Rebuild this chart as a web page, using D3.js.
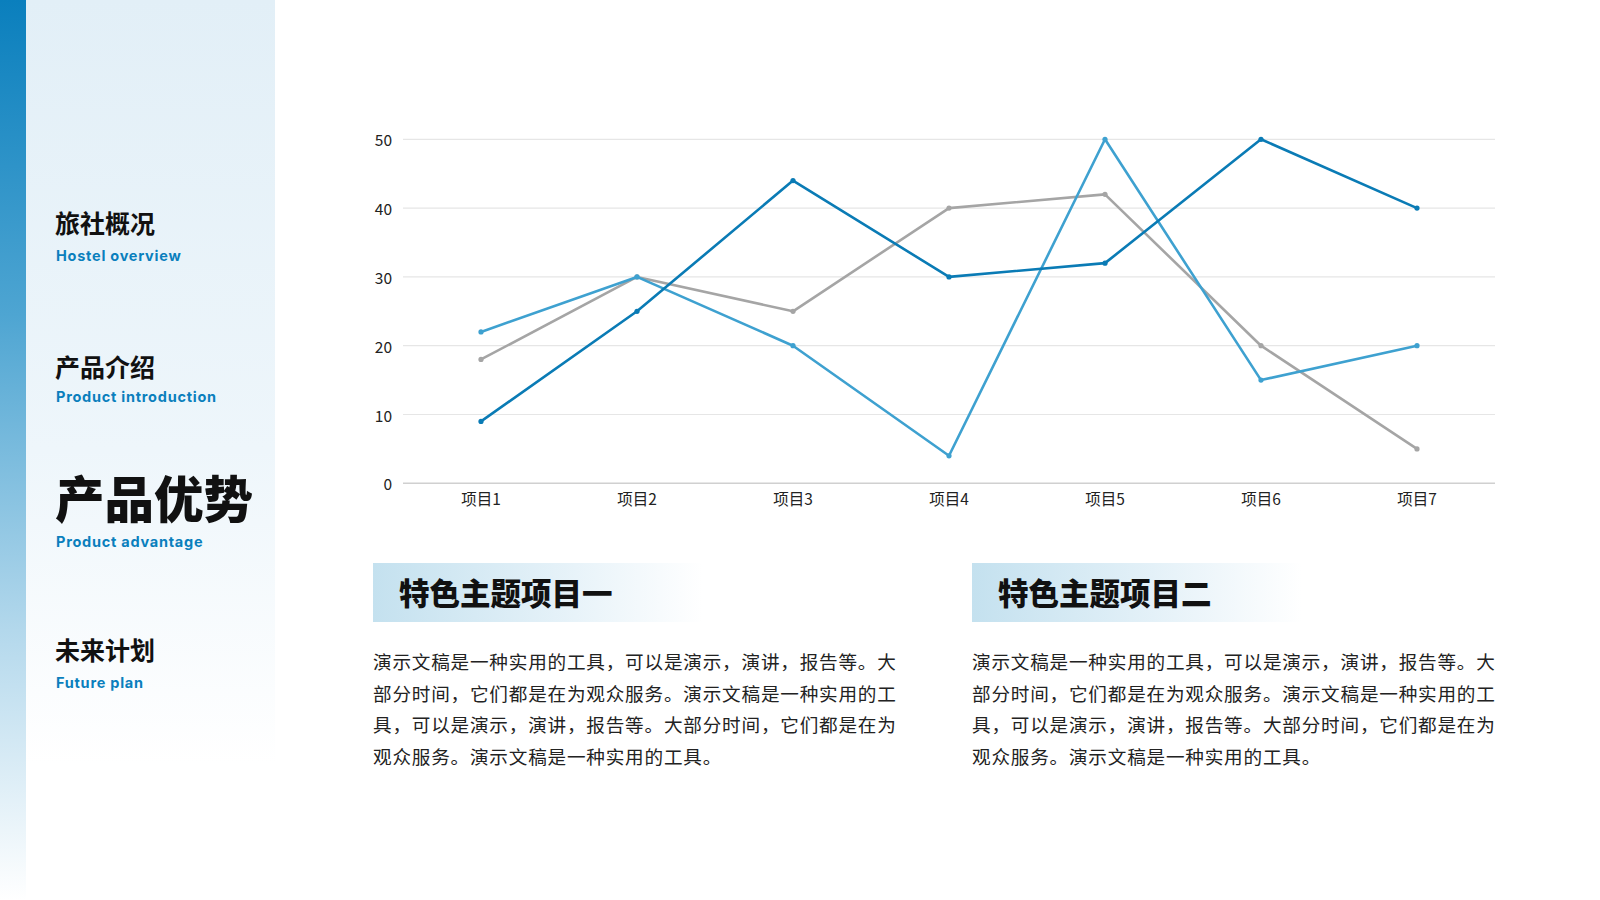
<!DOCTYPE html>
<html><head><meta charset="utf-8">
<script src="https://cdn.jsdelivr.net/npm/d3@7/dist/d3.min.js"></script>
<style>
html,body{margin:0;padding:0;background:#fff;}
svg{display:block;}
</style></head>
<body>
<svg id="c" width="1600" height="900"></svg>
<script>
const categories = ["项目1","项目2","项目3","项目4","项目5","项目6","项目7"];
const seriesA = [9, 25, 44, 30, 32, 50, 40];
const seriesB = [22, 30, 20, 4, 50, 15, 20];
const seriesC = [18, 30, 25, 40, 42, 20, 5];
const yTicks = [0, 10, 20, 30, 40, 50];
const navItems = [
  {cn:"旅社概况", en:"Hostel overview", active:false},
  {cn:"产品介绍", en:"Product introduction", active:false},
  {cn:"产品优势", en:"Product advantage", active:true},
  {cn:"未来计划", en:"Future plan", active:false}
];
const cardTitles = ["特色主题项目一","特色主题项目二"];
const cardLines = [
  "演示文稿是一种实用的工具，可以是演示，演讲，报告等。大",
  "部分时间，它们都是在为观众服务。演示文稿是一种实用的工",
  "具，可以是演示，演讲，报告等。大部分时间，它们都是在为",
  "观众服务。演示文稿是一种实用的工具。"
];

const svg = d3.select("#c");
const defs = svg.append("defs");
const CJK = "'Noto Sans CJK SC','Noto Sans',sans-serif";

const g1 = defs.append("linearGradient").attr("id","strip").attr("x1",0).attr("y1",0).attr("x2",0).attr("y2",1);
g1.append("stop").attr("offset","0%").attr("stop-color","#0a7fbd");
g1.append("stop").attr("offset","35%").attr("stop-color","#4ea5d2");
g1.append("stop").attr("offset","70%").attr("stop-color","#b3d8ec");
g1.append("stop").attr("offset","100%").attr("stop-color","#ffffff");
const g2 = defs.append("linearGradient").attr("id","panel").attr("x1",0).attr("y1",0).attr("x2",0).attr("y2",1);
g2.append("stop").attr("offset","0%").attr("stop-color","#e2eff7");
g2.append("stop").attr("offset","50%").attr("stop-color","#eef6fb");
g2.append("stop").attr("offset","85%").attr("stop-color","#ffffff");
g2.append("stop").attr("offset","100%").attr("stop-color","#ffffff");
const g3 = defs.append("linearGradient").attr("id","card").attr("x1",0).attr("y1",0).attr("x2",1).attr("y2",0);
g3.append("stop").attr("offset","0%").attr("stop-color","#c4e1ef");
g3.append("stop").attr("offset","55%").attr("stop-color","#e4f1f8");
g3.append("stop").attr("offset","100%").attr("stop-color","#ffffff");

svg.append("rect").attr("x",26).attr("y",0).attr("width",249).attr("height",900).attr("fill","url(#panel)");
svg.append("rect").attr("x",0).attr("y",0).attr("width",26).attr("height",900).attr("fill","url(#strip)");

const navY = [{cn:222, en:261},{cn:366, en:402},{cn:496, en:547},{cn:649, en:688}];
navItems.forEach((d,i)=>{
  svg.append("text").attr("x",55).attr("y",navY[i].cn).attr("dominant-baseline","central")
    .attr("font-family",CJK).attr("font-weight", d.active?900:700)
    .attr("font-size", d.active?49.5:25).attr("fill","#111").text(d.cn);
  svg.append("text").attr("x",56).attr("y",navY[i].en)
    .attr("font-family","Inter, Lato, sans-serif").attr("font-weight",700)
    .attr("font-size",14.5).attr("letter-spacing",0.75).attr("fill","#0a7fbd").text(d.en);
});

const x = d3.scaleBand().domain(categories).range([403,1495]);
const y = d3.scaleLinear().domain([0,50]).range([483.3,139.3]);
const chart = svg.append("g");
chart.selectAll("line.grid").data(yTicks).join("line")
  .attr("x1",403).attr("x2",1495).attr("y1",d=>y(d)).attr("y2",d=>y(d))
  .attr("stroke",d=>d===0?"#d0d0d0":"#e6e6e6").attr("stroke-width",d=>d===0?1.5:1.2);
chart.selectAll("text.yt").data(yTicks).join("text")
  .attr("x",392).attr("y",d=>y(d)).attr("text-anchor","end").attr("dominant-baseline","central")
  .attr("font-family",CJK).attr("font-size",15.5).attr("fill","#222").text(d=>d);
chart.selectAll("text.xt").data(categories).join("text")
  .attr("x",d=>x(d)+x.bandwidth()/2).attr("y",498).attr("text-anchor","middle").attr("dominant-baseline","central")
  .attr("font-family",CJK).attr("font-size",15.5).attr("fill","#222").text(d=>d);

const line = d3.line().x((d,i)=>x(categories[i])+x.bandwidth()/2).y(d=>y(d));
const series = [
  {vals:seriesC, color:"#a5a5a5"},
  {vals:seriesB, color:"#3ea1d0"},
  {vals:seriesA, color:"#0a7bb5"}
];
series.forEach(s=>{
  chart.append("path").attr("d",line(s.vals)).attr("fill","none").attr("stroke",s.color)
    .attr("stroke-width",2.6).attr("stroke-linejoin","round");
  chart.selectAll(null).data(s.vals).join("circle")
    .attr("cx",(d,i)=>x(categories[i])+x.bandwidth()/2).attr("cy",d=>y(d)).attr("r",2.6).attr("fill",s.color);
});

const cardX = [373, 972];
cardX.forEach((cx,k)=>{
  svg.append("rect").attr("x",cx).attr("y",563).attr("width",330).attr("height",59).attr("fill","url(#card)");
  svg.append("text").attr("x",cx+26).attr("y",591.5).attr("dominant-baseline","central")
    .attr("font-family",CJK).attr("font-weight",900).attr("font-size",30.5).attr("fill","#111").text(cardTitles[k]);
  cardLines.forEach((t,j)=>{
    svg.append("text").attr("x",cx).attr("y",660.5+j*31.6).attr("dominant-baseline","central")
      .attr("font-family",CJK).attr("font-size",18.6).attr("letter-spacing",0.8).attr("fill","#222").text(t);
  });
});
</script>
</body></html>
